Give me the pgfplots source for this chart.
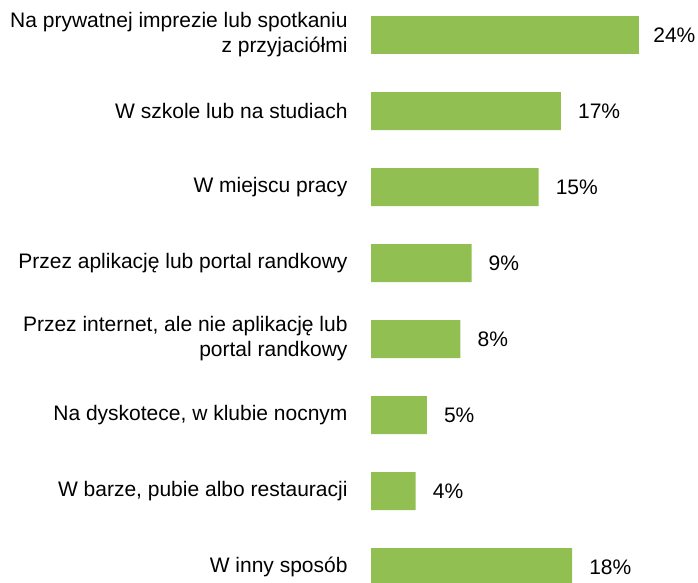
\documentclass[border=0pt]{standalone}
\usepackage{pgfplots}
\pgfplotsset{compat=1.18}
\usepackage{fontspec}
\setmainfont{Liberation Sans}
\definecolor{barg}{RGB}{146,191,82}
\begin{document}
\begin{tikzpicture}[x=1pt,y=1pt]
\fontsize{21}{25}\selectfont
\begin{axis}[
  at={(371pt,0pt)}, anchor=south west,
  scale only axis, width=327pt, height=582pt,
  xmin=0, xmax=29.27,
  ymin=0, ymax=582, y dir=reverse,
  clip=false,
  axis line style={draw=none},
  tick style={draw=none},
  xtick=\empty,
  ytick={35,111,187,263,339,415,491,567},
  yticklabels={{Na prywatnej imprezie lub spotkaniu\\z przyjaciółmi},
    {W szkole lub na studiach},{W miejscu pracy},
    {Przez aplikację lub portal randkowy},
    {Przez internet, ale nie aplikację lub\\portal randkowy},
    {Na dyskotece, w klubie nocnym},
    {W barze, pubie albo restauracji},{W inny sposób}},
  yticklabel style={align=right, anchor=east, inner sep=0pt, xshift=-19pt, font=\fontsize{21}{25}\selectfont},
  xbar, bar width=38pt, bar shift=0pt,
  /pgf/number format/assume math mode=true,
  nodes near coords={\pgfmathprintnumber{\pgfplotspointmeta}\%},
  nodes near coords style={anchor=west, inner sep=0pt, xshift=17pt, font=\fontsize{21}{25}\selectfont},
  point meta=x,
]
\addplot[fill=barg, draw=none] coordinates {(17,111) (15,187) (9,263) (8,339) (5,415) (4,491) (18,567)};
\addplot[fill=barg, draw=none, nodes near coords style={xshift=-3pt}] coordinates {(24,35)};
\end{axis}
\pgfresetboundingbox
\path[use as bounding box] (0,0) rectangle (698pt,582pt);
\end{tikzpicture}
\end{document}
